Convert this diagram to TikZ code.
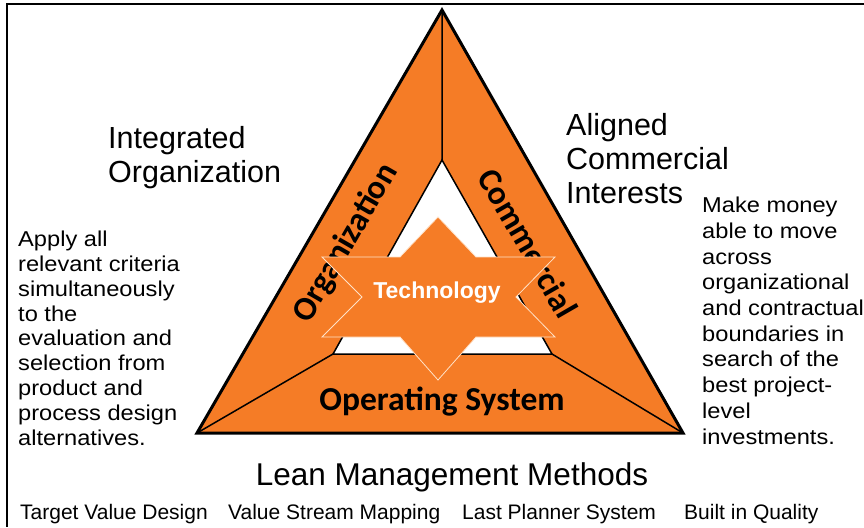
\documentclass[tikz,border=0pt]{standalone}
\usepackage{fontspec}
\setmainfont{Liberation Sans}
\newfontfamily\bandfont{Carlito}
\newfontfamily\notefont[FakeStretch=1.1]{Liberation Sans}
\usepackage{tikz}
\definecolor{leanorange}{RGB}{245,124,38}
\definecolor{starline}{RGB}{255,226,200}

\begin{document}
\begin{tikzpicture}[x=1pt,y=-1pt,every text node part/.style={align=left},
  band/.style={font=\bandfont\bfseries\fontsize{33.5}{36}\selectfont,inner sep=0pt},
  heading/.style={font=\fontsize{30.5}{34}\selectfont,anchor=north west,inner sep=0pt},
  note/.style={anchor=north west,inner sep=0pt},
  method/.style={font=\fontsize{21}{24}\selectfont,anchor=base west,inner sep=0pt}]
\useasboundingbox (0,0) rectangle (864,527);
\draw[line width=2.5pt] (6,4) -- (864,4);
\draw[line width=2pt] (7,4) -- (7,527);
\coordinate (apex) at (442,10);
\coordinate (left) at (197,433);
\coordinate (right) at (683,433);
\coordinate (inapex) at (442,160);
\coordinate (inleft) at (333,354);
\coordinate (inright) at (552,354);
\fill[leanorange] (apex) -- (left) -- (right) -- cycle;
\draw[line width=1.5pt,fill=white] (inapex) -- (inleft) -- (inright) -- cycle;
\draw[line width=1.5pt] (apex) -- (inapex) (left) -- (inleft) (right) -- (inright);
\draw[line width=3pt] (apex) -- (left) -- (right) -- cycle;
\node[band,rotate=60] (org) at (346,243) {Organization};
\node[band,rotate=-60] (com) at (528,243) {Commercial};
\node[band,anchor=base] (ops) at (442,410) {Operating System};
\draw[starline,line width=0.8pt,fill=leanorange] (438,217) -- (476,257) -- (555,257) -- (516,297) -- (555,337) -- (476,337) -- (438,380) -- (400,337) -- (322,337) -- (362,297) -- (322,257) -- (400,257) -- cycle;
\node[font=\bfseries\fontsize{23}{26}\selectfont,text=white,anchor=base] (tech) at (437,298) {Technology};
\node[heading] (intorg) at (108,126) {Integrated\\Organization};
\node[heading] (aligned) at (566,113) {Aligned\\Commercial\\Interests};
\node[note,font=\notefont\fontsize{21.5}{24.8}\selectfont] (apply) at (18,231) {Apply all\\relevant criteria\\simultaneously\\to the\\evaluation and\\selection from\\product and\\process design\\alternatives.};
\node[note,font=\notefont\fontsize{21.5}{25.7}\selectfont] (money) at (702,197) {Make money\\able to move\\across\\organizational\\and contractual\\boundaries in\\search of the\\best project-\\level\\investments.};
\node[font=\fontsize{31.5}{34}\selectfont,anchor=base,inner sep=0pt] (lean) at (452,485) {Lean Management Methods};
\node[method] (tvd) at (20,519) {Target Value Design};
\node[method] (vsm) at (228,519) {Value Stream Mapping};
\node[method] (lps) at (462,519) {Last Planner System};
\node[method] (biq) at (684,519) {Built in Quality};
\end{tikzpicture}
\end{document}
